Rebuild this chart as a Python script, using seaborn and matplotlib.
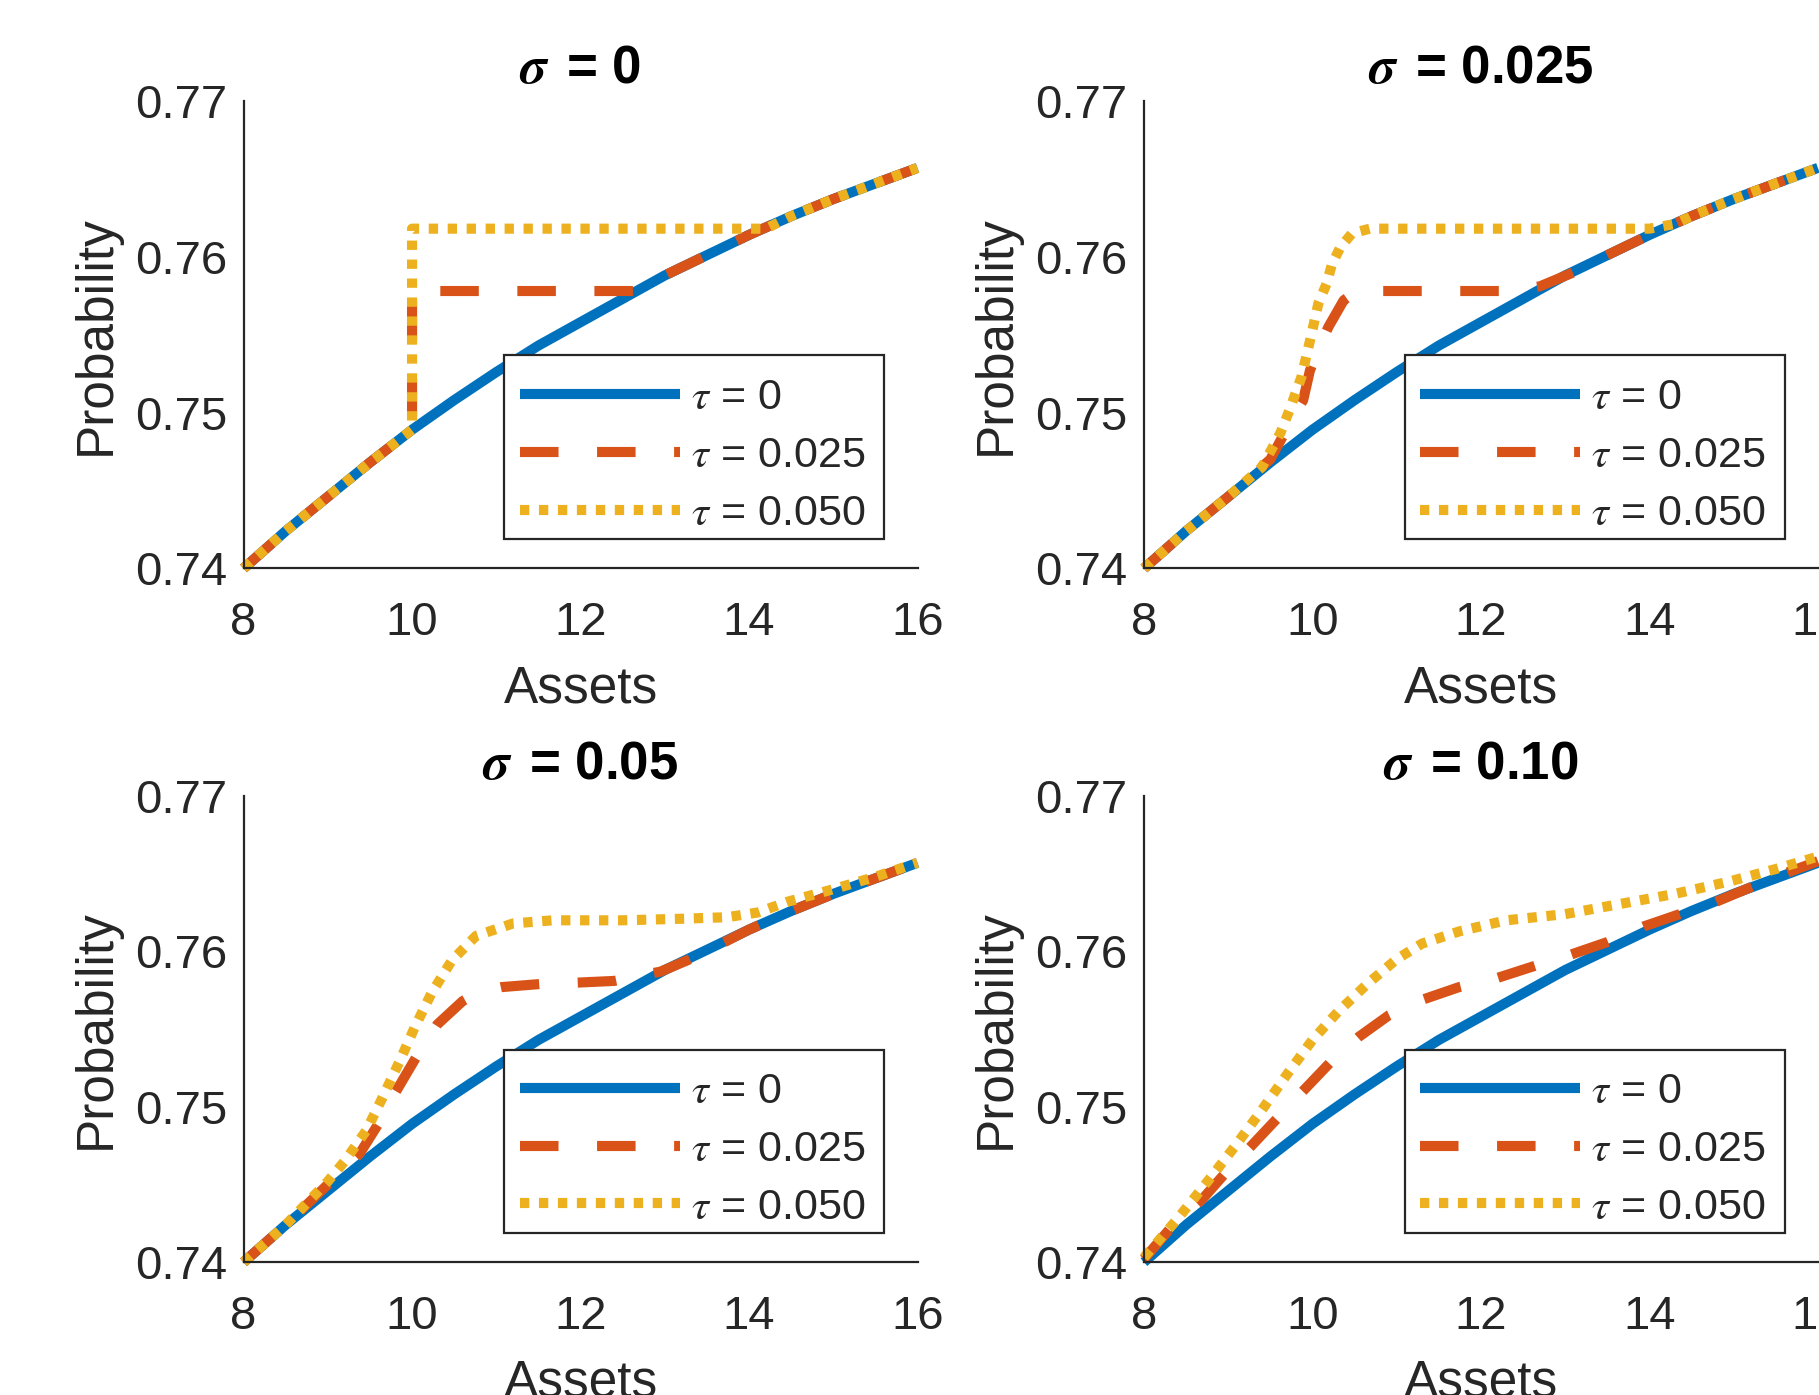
import numpy as np
import pandas as pd
import matplotlib
matplotlib.use("Agg")
import matplotlib.pyplot as plt
from matplotlib.patches import Rectangle
import seaborn as sns

# baseline curve, tau = 0 (same in all panels)
assets = [8, 8.5, 9, 9.5, 10, 10.5, 11, 11.5, 12, 12.5, 13, 13.5, 14, 14.5, 15, 15.5, 16]
prob_t0 = [0.7400, 0.7424, 0.7446, 0.7468, 0.7489, 0.7508, 0.7526, 0.7543, 0.7558,
           0.7573, 0.7588, 0.7601, 0.7614, 0.7626, 0.7637, 0.7647, 0.7657]

# sigma = 0
x_s0_t025 = [8, 8.5, 9, 9.5, 10, 10, 12.65, 13, 13.5, 14, 14.5, 15, 15.5, 16]
y_s0_t025 = [0.7400, 0.7424, 0.7446, 0.7468, 0.7489, 0.7578, 0.7578, 0.7588, 0.7601,
             0.7614, 0.7626, 0.7637, 0.7647, 0.7657]
x_s0_t050 = [8, 8.5, 9, 9.5, 10, 10, 14.2, 14.5, 15, 15.5, 16]
y_s0_t050 = [0.7400, 0.7424, 0.7446, 0.7468, 0.7489, 0.7618, 0.7618, 0.7626, 0.7637,
             0.7647, 0.7657]

# sigma = 0.025
x_s1_t025 = [8, 8.5, 9, 9.5, 9.62, 9.75, 9.89, 9.97, 10.08, 10.19, 10.37, 10.5, 10.6,
             12.3, 12.7, 13.1, 13.5, 14, 14.5, 15, 15.5, 16]
y_s1_t025 = [0.7400, 0.7424, 0.7446, 0.7470, 0.7482, 0.7495, 0.7508, 0.7527, 0.7542,
             0.7555, 0.7572, 0.7577, 0.7578, 0.7578, 0.7581, 0.7590, 0.7601, 0.7614,
             0.7626, 0.7637, 0.7647, 0.7657]
x_s1_t050 = [8, 8.5, 9, 9.4, 9.62, 9.73, 9.87, 9.97, 10.07, 10.17, 10.23, 10.33, 10.47,
             10.68, 14.0, 14.3, 14.5, 15, 15.5, 16]
y_s1_t050 = [0.7400, 0.7424, 0.7446, 0.7465, 0.7487, 0.7502, 0.7523, 0.7546, 0.7570,
             0.7583, 0.7595, 0.7606, 0.7615, 0.7618, 0.7618, 0.7621, 0.7626, 0.7637,
             0.7647, 0.7657]

# sigma = 0.05
x_s2_t025 = [8, 8.5, 9, 9.38, 9.6, 9.8, 10.05, 10.3, 10.6, 10.8, 11.06, 11.52, 12.0,
             12.4, 12.95, 13.3, 13.6, 14, 14.5, 15, 15.5, 16]
y_s2_t025 = [0.7400, 0.7424, 0.7450, 0.7470, 0.7489, 0.7509, 0.7532, 0.7553, 0.7568,
             0.7574, 0.7577, 0.7579, 0.7580, 0.7581, 0.7587, 0.7595, 0.7603, 0.7614,
             0.7626, 0.7637, 0.7647, 0.7657]
x_s2_t050 = [8, 8.5, 9, 9.2, 9.46, 9.65, 9.85, 10.03, 10.23, 10.47, 10.76, 11.2, 11.67,
             12.5, 13.2, 13.74, 14.1, 14.46, 15, 15.5, 16]
y_s2_t050 = [0.7400, 0.7424, 0.7452, 0.7465, 0.7485, 0.7506, 0.7529, 0.7551, 0.7573,
             0.7594, 0.7610, 0.7618, 0.7620, 0.7620, 0.7621, 0.7622, 0.7625, 0.7632,
             0.7640, 0.7648, 0.7657]

# sigma = 0.10
x_s3_t025 = [8, 8.3, 8.7, 8.96, 9.26, 9.59, 9.85, 10.22, 10.55, 10.91, 11.31, 11.74,
             12.2, 12.6, 13.07, 13.5, 13.93, 14.36, 14.75, 15.19, 15.65, 16]
y_s3_t025 = [0.7402, 0.7421, 0.7441, 0.7457, 0.7474, 0.7493, 0.7508, 0.7529, 0.7545,
             0.7559, 0.7569, 0.7577, 0.7583, 0.7590, 0.7598, 0.7606, 0.7616, 0.7624,
             0.7631, 0.7641, 0.7651, 0.7658]
x_s3_t050 = [8, 8.4, 8.8, 9.1, 9.4, 9.7, 10.0, 10.3, 10.65, 11.0, 11.3, 11.75, 12.3,
             13.0, 13.6, 14.3, 14.95, 15.5, 16]
y_s3_t050 = [0.7403, 0.7428, 0.7455, 0.7476, 0.7498, 0.7521, 0.7543, 0.7561, 0.7579,
             0.7595, 0.7605, 0.7613, 0.7620, 0.7624, 0.7630, 0.7637, 0.7645, 0.7653,
             0.7661]

titles = ['0', '0.025', '0.05', '0.10']
tau_labels = ['0', '0.025', '0.050']
colors = ['#0072BD', '#D95319', '#EDB120']
styles = ['-', (0, (3.8, 3.8)), (0, (0.92, 0.95))]

panels = [
    [(assets, prob_t0), (x_s0_t025, y_s0_t025), (x_s0_t050, y_s0_t050)],
    [(assets, prob_t0), (x_s1_t025, y_s1_t025), (x_s1_t050, y_s1_t050)],
    [(assets, prob_t0), (x_s2_t025, y_s2_t025), (x_s2_t050, y_s2_t050)],
    [(assets, prob_t0), (x_s3_t025, y_s3_t025), (x_s3_t050, y_s3_t050)],
]

sns.set_style("white")
plt.rcParams['font.family'] = ['Liberation Sans', 'DejaVu Sans']
plt.rcParams['mathtext.fontset'] = 'stix'

ink = '#262626'
fig = plt.figure(figsize=(18.19, 13.95), dpi=100)
pos = [[0.1339, 0.5925, 0.3705, 0.3352], [0.6289, 0.5925, 0.3705, 0.3352],
       [0.1339, 0.0952, 0.3705, 0.3342], [0.6289, 0.0952, 0.3705, 0.3342]]

for k in range(4):
    ax = fig.add_axes(pos[k])
    for j in range(3):
        xs, ys = panels[k][j]
        df = pd.DataFrame({'Assets': xs, 'Probability': ys})
        sns.lineplot(data=df, x='Assets', y='Probability', ax=ax, color=colors[j],
                     lw=7.3, linestyle=styles[j], estimator=None, sort=False,
                     label=r'$\tau$ = ' + tau_labels[j], clip_on=False,
                     solid_capstyle='butt', dash_capstyle='butt')
    ax.set_xlim(8, 16)
    ax.set_ylim(0.74, 0.77)
    ax.set_xticks([8, 10, 12, 14, 16])
    ax.set_yticks([0.74, 0.75, 0.76, 0.77])
    ax.set_xticklabels(['8', '10', '12', '14', '16'])
    ax.set_yticklabels(['0.74', '0.75', '0.76', '0.77'])
    for s in ['top', 'right']:
        ax.spines[s].set_visible(False)
    for s in ['left', 'bottom']:
        ax.spines[s].set_color(ink)
        ax.spines[s].set_linewidth(1.6)
    ax.tick_params(direction='in', length=7, width=1.6, colors=ink, labelsize=34)
    ax.tick_params(axis='x', pad=23.5)
    ax.tick_params(axis='y', pad=12)
    ax.set_xlabel('Assets', fontsize=37, color=ink, labelpad=14)
    ax.set_ylabel('Probability', fontsize=37, color=ink, labelpad=10)
    ax.set_title(r'$\mathbfit{\sigma}\,$ = ' + titles[k], fontsize=38, fontweight='bold',
                 color='black', pad=12.5)
    # legend box drawn as its own frame, entries placed inside it
    ax.add_patch(Rectangle((0.387, 0.062), 0.564, 0.394, transform=ax.transAxes,
                           facecolor='white', edgecolor=ink, lw=1.6, zorder=4.5,
                           clip_on=False))
    leg = ax.legend(loc='lower right', bbox_to_anchor=(0.945, 0.042), borderaxespad=0,
                    fontsize=31, handlelength=3.72, handletextpad=0.25, borderpad=0.35,
                    labelspacing=0.41, frameon=False)

fig.savefig('out.png', dpi=100)
